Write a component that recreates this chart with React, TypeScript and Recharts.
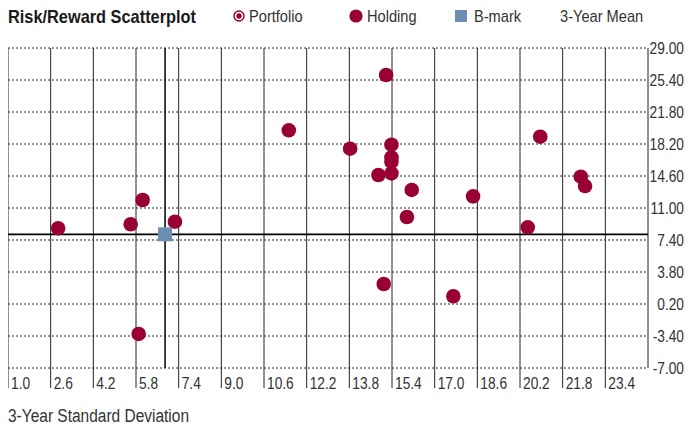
import React from 'react';
import { ScatterChart, Scatter, XAxis, YAxis, CartesianGrid, ReferenceLine } from 'recharts';

const FONT = '"Liberation Sans", Arial, sans-serif';
const SQUEEZE = 0.86;
const TEXT = '#333';
const GRID = '#222';
const HOLDING_COLOR = '#990033';
const BMARK_COLOR = '#6d8db4';

const title = 'Risk/Reward Scatterplot';
const xAxisTitle = '3-Year Standard Deviation';
const legendItems = ['Portfolio', 'Holding', 'B-mark', '3-Year Mean'];

const xTicks = [1.0, 2.6, 4.2, 5.8, 7.4, 9.0, 10.6, 12.2, 13.8, 15.4, 17.0, 18.6, 20.2, 21.8, 23.4];
const yTicks = [-7, -3.4, 0.2, 3.8, 7.4, 11, 14.6, 18.2, 21.8, 25.4, 29];
const xDomain = [1, 25];
const yDomain = [-7, 29];

const holdingStdDev = [2.88, 5.6, 6.05, 7.26, 5.9, 11.53, 15.18, 13.83, 15.38, 15.38, 15.38, 14.89, 15.38, 16.14, 15.96, 18.44, 15.09, 17.7, 20.96, 20.49, 22.48, 22.64];
const holdingReturn = [8.72, 9.17, 11.9, 9.46, -3.17, 19.74, 25.96, 17.67, 18.12, 16.7, 16.2, 14.71, 14.9, 13.03, 9.99, 12.31, 2.45, 1.07, 19.02, 8.83, 14.52, 13.47];

const bmarkStdDev = [6.89];
const bmarkReturn = [8.04];

const meanStdDev = 6.89;
const meanReturn = 8.04;

const holdingData = holdingStdDev.map((x, i) => ({ x, y: holdingReturn[i] }));
const bmarkData = bmarkStdDev.map((x, i) => ({ x, y: bmarkReturn[i] }));

// legend layout (pixel positions inside the page-sized box)
const legendIconLeft = [233, 349, 455, 0];
const legendTextLeft = [249, 367, 474, 560];

const PLOT_RIGHT = 648;
const LABEL_RIGHT = 684;

const XTick = (props: any) => {
  const { x, y, payload } = props;
  return (
    <text
      transform={`translate(${x + 3},${y + 1}) scale(0.86,1)`}
      fill={TEXT}
      fontSize={16}
      fontFamily={FONT}
      textAnchor="start"
    >
      {Number(payload.value).toFixed(1)}
    </text>
  );
};

const YTick = (props: any) => {
  const { y, payload } = props;
  return (
    <text
      transform={`translate(${LABEL_RIGHT},${y}) scale(0.86,1)`}
      dy="0.36em"
      fill={TEXT}
      fontSize={16}
      fontFamily={FONT}
      textAnchor="end"
    >
      {Number(payload.value).toFixed(2)}
    </text>
  );
};

const HoldingShape = (props: any) => <circle cx={props.cx} cy={props.cy} r={7.3} fill={HOLDING_COLOR} />;
const BmarkShape = (props: any) => (
  <rect x={props.cx - 7} y={props.cy - 7} width={14} height={14} fill={BMARK_COLOR} />
);

const LegendIcon = ({ index }: { index: number }) => {
  if (index === 0) {
    return (
      <svg width={12} height={12}>
        <circle cx={6} cy={6} r={5} fill="#fff" stroke={HOLDING_COLOR} strokeWidth={1.4} />
        <circle cx={6} cy={6} r={2.7} fill={HOLDING_COLOR} />
      </svg>
    );
  }
  if (index === 1) {
    return (
      <svg width={14} height={14}>
        <circle cx={7} cy={7} r={6.6} fill={HOLDING_COLOR} />
      </svg>
    );
  }
  if (index === 2) {
    return (
      <svg width={12} height={12}>
        <rect x={0} y={0} width={12} height={12} fill={BMARK_COLOR} />
      </svg>
    );
  }
  return null;
};

const squeezed = (fontSize: number, bold = false): React.CSSProperties => ({
  position: 'absolute',
  fontSize,
  fontWeight: bold ? 'bold' : 'normal',
  transform: `scaleX(${SQUEEZE})`,
  transformOrigin: 'left center',
  whiteSpace: 'nowrap',
  lineHeight: 1,
});

export default function App() {
  return (
    <div style={{ position: 'relative', width: 692, height: 430, margin: -8, fontFamily: FONT, overflow: 'hidden' }}>
      <ScatterChart width={692} height={430} margin={{ top: 48, right: 0, bottom: 8, left: 8 }}>
        <CartesianGrid horizontal={false} stroke={GRID} strokeWidth={1} />
        <CartesianGrid vertical={false} stroke={GRID} strokeDasharray="2 2" strokeWidth={1} />
        <XAxis
          type="number"
          dataKey="x"
          domain={xDomain}
          ticks={xTicks}
          interval={0}
          height={54}
          axisLine={false}
          tickLine={{ stroke: GRID }}
          tickSize={20}
          tickMargin={0}
          tick={<XTick />}
          allowDataOverflow
        />
        <YAxis
          type="number"
          dataKey="y"
          orientation="right"
          domain={yDomain}
          ticks={yTicks}
          interval={0}
          width={692 - PLOT_RIGHT}
          axisLine={false}
          tickLine={false}
          tick={<YTick />}
          allowDataOverflow
        />
        <Scatter name="B-mark" data={bmarkData} shape={<BmarkShape />} isAnimationActive={false} />
        <ReferenceLine x={meanStdDev} stroke="#000" strokeWidth={1.5} />
        <ReferenceLine y={meanReturn} stroke="#000" strokeWidth={1.8} />
        <Scatter name="Holding" data={holdingData} shape={<HoldingShape />} isAnimationActive={false} />
      </ScatterChart>

      <span style={{ ...squeezed(19, true), left: 8, top: 7, color: '#1a1a1a' }}>{title}</span>
      {legendItems.map((name, i) => (
        <React.Fragment key={name}>
          {i < 3 && (
            <span style={{ position: 'absolute', left: legendIconLeft[i], top: i === 1 ? 9 : 10, lineHeight: 0 }}>
              <LegendIcon index={i} />
            </span>
          )}
          <span style={{ ...squeezed(17), left: legendTextLeft[i], top: 8, color: TEXT }}>{name}</span>
        </React.Fragment>
      ))}
      <span style={{ ...squeezed(18), left: 8, top: 407, color: TEXT }}>{xAxisTitle}</span>
    </div>
  );
}
